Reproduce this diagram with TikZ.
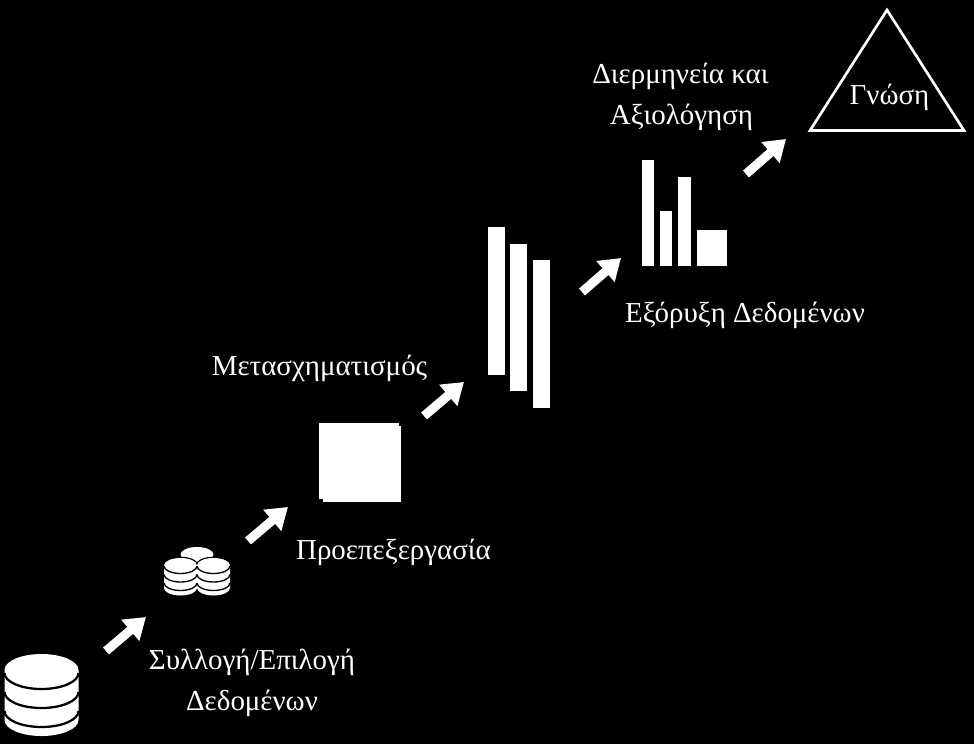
\documentclass[tikz,border=0pt]{standalone}
\usepackage{fontspec}
\setmainfont{Liberation Serif}
\usetikzlibrary{arrows.meta,shapes.geometric}
\tikzset{
  lbl/.style={text=white,font=\fontsize{21.7}{26}\selectfont,inner sep=0pt,anchor=center},
  solid white/.style={fill=white,draw=none},
  flowarrow/.style={draw=white,line width=6.8pt,-{Triangle[length=15.5pt,width=20pt]}},
  band/.style={draw=black,line width=1.7pt},
  thin band/.style={draw=black,line width=1pt},
}
% centre x, top y, half width, half height of the ellipse, body height, number of bands, band gap, band style
\newcommand{\dboff}{0}
\newcommand{\dbcyl}[8]{%
  \fill[white] (#1-#3,#2+#4) arc[start angle=180,end angle=360,x radius=#3,y radius=#4]
     -- (#1+#3,#2+#4+#5) arc[start angle=0,end angle=180,x radius=#3,y radius=#4] -- cycle;
  \foreach \k in {1,...,#6}{
    \draw[#8] (#1+#3,#2+#4+\k*#7-#7+\dboff) arc[start angle=0,end angle=180,x radius=#3,y radius=#4];
  }%
}
\begin{document}
\begin{tikzpicture}[x=0.75pt,y=-0.75pt]
\useasboundingbox (0,0) rectangle (974,744);
\fill[black] (0,0) rectangle (974,744);

% large database
\renewcommand{\dboff}{3}
\dbcyl{41.5}{654}{37}{16}{50}{3}{19}{band}

% small stacks
\fill[white] (197,554.5) ellipse[x radius=16.5,y radius=7.5];
\draw[black,line width=1.2pt] (180.5,565.5) ellipse[x radius=17,y radius=8];
\draw[black,line width=1.2pt] (213.5,565.5) ellipse[x radius=17,y radius=8];
\renewcommand{\dboff}{0.5}
\dbcyl{180.5}{558}{16.5}{7.5}{22.5}{3}{8.5}{thin band}
\dbcyl{213.5}{558}{16.5}{7.5}{22.5}{3}{8.5}{thin band}

% square
\fill[solid white] (319,423) rectangle (399,499);
\fill[solid white] (323,426) rectangle (401,502);

% tall bars
\fill[solid white] (488,227) rectangle (505,375);
\fill[solid white] (510,244) rectangle (527,391);
\fill[solid white] (533,260) rectangle (550,408);

% bar chart
\fill[solid white] (642,160) rectangle (654,266);
\fill[solid white] (660,211) rectangle (672,266);
\fill[solid white] (678,177) rectangle (691,266);
\fill[solid white] (697,230) rectangle (727,266);

% triangle
\draw[white,line width=2pt,line join=miter] (887,10) -- (964,130.5) -- (810,130.5) -- cycle;

% labels
\node[lbl] (syl1) at (252,662) {Συλλογή/Επιλογή};
\node[lbl] (syl2) at (252,703) {Δεδομένων};
\node[lbl] (pro) at (393.5,552) {Προεπεξεργασία};
\node[lbl] (met) at (319.5,368) {Μετασχηματισμός};
\node[lbl] (exo) at (745,315) {Εξόρυξη Δεδομένων};
\node[lbl] (dier) at (680.5,76) {Διερμηνεία και};
\node[lbl] (axi) at (681.5,117) {Αξιολόγηση};
\node[lbl] (gno) at (889.5,97) {Γνώση};

% arrows
\coordinate (a1s) at (106,651); \coordinate (a1e) at (146,617);
\coordinate (a2s) at (248,541); \coordinate (a2e) at (288,507);
\coordinate (a3s) at (424,416); \coordinate (a3e) at (464,382);
\coordinate (a4s) at (582,292); \coordinate (a4e) at (621,258);
\coordinate (a5s) at (746,174); \coordinate (a5e) at (786,139);
\draw[flowarrow] (a1s) -- (a1e);
\draw[flowarrow] (a2s) -- (a2e);
\draw[flowarrow] (a3s) -- (a3e);
\draw[flowarrow] (a4s) -- (a4e);
\draw[flowarrow] (a5s) -- (a5e);
\end{tikzpicture}
\end{document}
